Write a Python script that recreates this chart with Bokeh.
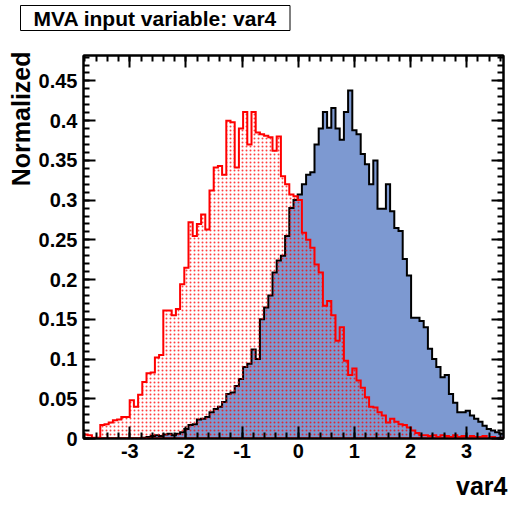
import numpy as np
from bokeh.plotting import figure
from bokeh.models import (Range1d, LinearAxis, SingleIntervalTicker,
                          CustomJSTickFormatter, CustomLabelingPolicy, Title)
from bokeh.embed import file_html
from bokeh.resources import INLINE

# ---------------- data ----------------
title_text = "MVA input variable: var4"
x_title = "var4"
y_title = "Normalized"
x_min, x_max = -3.826, 3.658
y_max = 0.482
n_bins = 100

signal = [
    0, 0, 0, 0, 0, 0, 0, 0, 0, 0,
    0, 0, 0, 0, 0.001, 0.002, 0.003, 0.004, 0.003, 0.005,
    0.006, 0.004, 0.006, 0.008, 0.012, 0.017, 0.018, 0.024, 0.025, 0.027,
    0.033, 0.037, 0.040, 0.046, 0.056, 0.058, 0.066, 0.075, 0.090, 0.094,
    0.112, 0.100, 0.150, 0.165, 0.180, 0.209, 0.224, 0.230, 0.255, 0.290,
    0.300, 0.307, 0.320, 0.332, 0.335, 0.370, 0.390, 0.411, 0.391, 0.416,
    0.390, 0.376, 0.411, 0.438, 0.388, 0.383, 0.358, 0.345, 0.320, 0.350,
    0.289, 0.289, 0.320, 0.286, 0.265, 0.261, 0.226, 0.205, 0.152, 0.152,
    0.148, 0.140, 0.113, 0.100, 0.090, 0.077, 0.080, 0.056, 0.045, 0.033,
    0.033, 0.035, 0.029, 0.025, 0.021, 0.016, 0.012, 0.010, 0.008, 0.006,
]

background = [
    0.005, 0.004, 0.001, 0.001, 0.017, 0.018, 0.020, 0.023, 0.024, 0.027,
    0.027, 0.048, 0.040, 0.055, 0.071, 0.082, 0.083, 0.102, 0.105, 0.161,
    0.161, 0.155, 0.163, 0.194, 0.215, 0.272, 0.255, 0.270, 0.282, 0.263,
    0.312, 0.341, 0.343, 0.332, 0.400, 0.398, 0.341, 0.390, 0.411, 0.370,
    0.411, 0.385, 0.383, 0.381, 0.379, 0.362, 0.380, 0.330, 0.320, 0.307,
    0.305, 0.300, 0.259, 0.250, 0.240, 0.219, 0.209, 0.167, 0.173, 0.155,
    0.123, 0.140, 0.098, 0.080, 0.088, 0.073, 0.064, 0.052, 0.040, 0.039,
    0.033, 0.029, 0.020, 0.025, 0.021, 0.018, 0.017, 0.014, 0.010, 0.007,
    0.004, 0.004, 0.003, 0.004, 0.002, 0.004, 0.003, 0.002, 0.004, 0.002,
    0.003, 0.001, 0.003, 0.002, 0.002, 0.003, 0.0, 0.002, 0.0, 0.001,
]

# ---------------- helpers ----------------
edges = np.linspace(x_min, x_max, n_bins + 1)


def step_polygon(values):
    xs = [edges[0]]
    ys = [0.0]
    for i, v in enumerate(values):
        xs += [edges[i], edges[i + 1]]
        ys += [v, v]
    xs.append(edges[-1])
    ys.append(0.0)
    return xs, ys


FONT = "Liberation Sans"

p = figure(width=509, height=505,
           x_range=Range1d(x_min, x_max), y_range=Range1d(0, y_max),
           output_backend="svg", toolbar_location=None,
           min_border_left=83, min_border_right=6,
           min_border_top=55, min_border_bottom=67)
p.grid.visible = False
p.outline_line_color = "black"
p.outline_line_width = 2
p.background_fill_color = "white"
p.border_fill_color = "white"

sx, sy = step_polygon(signal)
bx, by = step_polygon(background)

p.patch(sx, sy, fill_color="#7d99d1", line_color="black", line_width=2,
        line_join="miter")
p.patch(bx, by, fill_color=None, fill_alpha=0,
        hatch_pattern="dot", hatch_color="red", hatch_scale=4,
        hatch_weight=1.1, hatch_alpha=0.75,
        line_color="red", line_width=2, line_join="miter")


def hide_all():
    return CustomLabelingPolicy(
        code="for (let i = 0; i < indices.size; i++) { indices.unset(i) } return indices")


def style_axis(ax, ticker, labels=True):
    ax.ticker = ticker
    ax.axis_line_color = "black"
    ax.axis_line_width = 2
    ax.major_tick_in = 12
    ax.major_tick_out = 0
    ax.minor_tick_in = 6
    ax.minor_tick_out = 0
    ax.major_tick_line_width = 2
    ax.minor_tick_line_width = 2
    ax.major_tick_line_color = "black"
    ax.minor_tick_line_color = "black"
    if labels:
        ax.major_label_text_font = FONT
        ax.major_label_text_font_style = "bold"
        ax.major_label_text_font_size = "20px"
        ax.major_label_text_color = "black"
    else:
        ax.major_label_policy = hide_all()
        ax.major_label_text_font_size = "1px"
        ax.major_label_standoff = 0


xa = p.xaxis[0]
ya = p.yaxis[0]
style_axis(xa, SingleIntervalTicker(interval=1, num_minor_ticks=5))
style_axis(ya, SingleIntervalTicker(interval=0.05, num_minor_ticks=5))
xa.major_label_standoff = 5
ya.major_label_standoff = 6
xa.formatter = CustomJSTickFormatter(code="return Math.round(tick).toString();")
ya.formatter = CustomJSTickFormatter(
    code="return (Math.round(tick*100)/100).toString();")

# mirrored ticks on top and right (no labels)
top = LinearAxis()
style_axis(top, SingleIntervalTicker(interval=1, num_minor_ticks=5), labels=False)
top.major_label_standoff = 20   # also acts as spacing below the title box
p.add_layout(top, "above")
right = LinearAxis()
style_axis(right, SingleIntervalTicker(interval=0.05, num_minor_ticks=5), labels=False)
p.add_layout(right, "right")

# main title in a box, top-left
main_title = Title(text=title_text, align="left", offset=-63,
                   text_font=FONT, text_font_style="bold",
                   text_font_size="21px", text_color="black",
                   standoff=2,
                   border_line_color="black", border_line_width=1,
                   background_fill_color="white",
                   padding=dict(left=13, right=13, top=1, bottom=1))
p.add_layout(main_title, "above")

ylab = Title(text=y_title, align="right", text_font=FONT,
             text_font_style="bold", text_font_size="25px",
             text_color="black", standoff=2, offset=-4)
p.add_layout(ylab, "left")

# invisible spacer axis between tick labels and the x title
spacer = LinearAxis()
spacer.ticker = SingleIntervalTicker(interval=1, num_minor_ticks=0)
spacer.axis_line_color = None
spacer.major_tick_line_color = None
spacer.minor_tick_line_color = None
spacer.major_tick_in = 0
spacer.major_tick_out = 0
spacer.minor_tick_in = 0
spacer.minor_tick_out = 0
spacer.major_label_policy = hide_all()
spacer.major_label_text_font_size = "1px"
spacer.major_label_standoff = 5
p.add_layout(spacer, "below")

xlab = Title(text=x_title, align="right", text_font=FONT,
             text_font_style="bold", text_font_size="25px",
             text_color="black", standoff=0, offset=-4)
p.add_layout(xlab, "below")

open("out.html", "w").write(file_html(p, INLINE))
